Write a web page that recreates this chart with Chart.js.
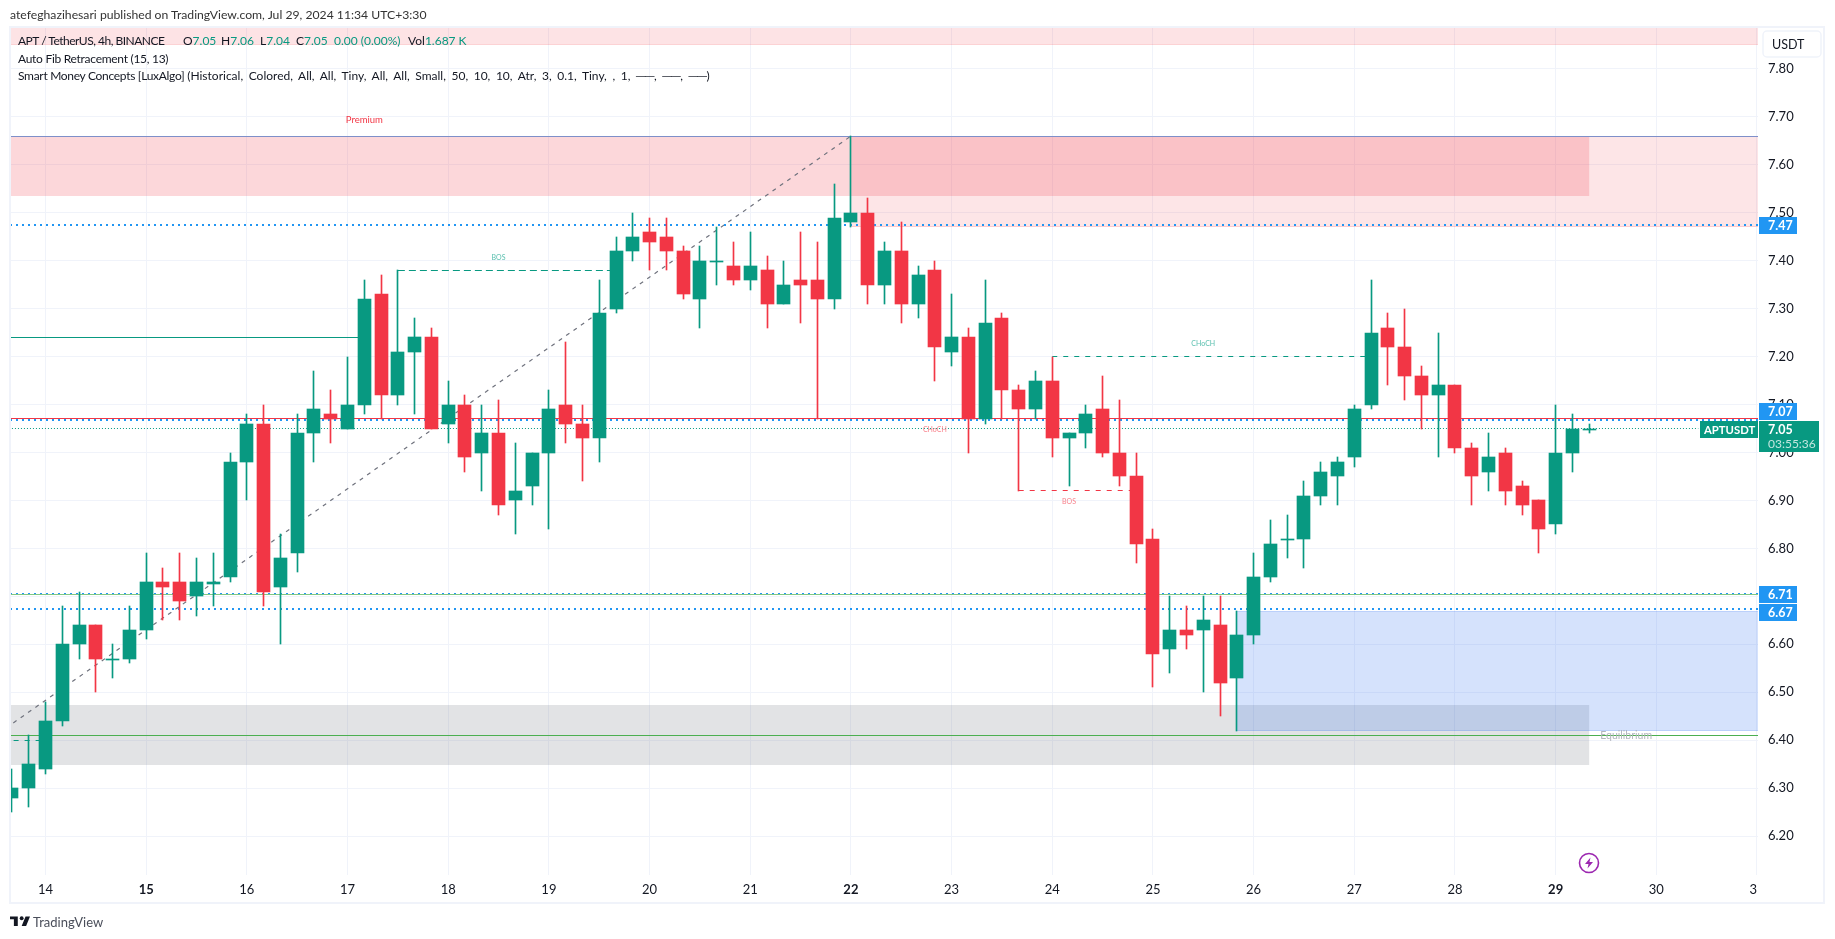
<!DOCTYPE html>
<html>
<head>
<meta charset="utf-8">
<title>APTUSDT 4h</title>
<script src="https://cdn.jsdelivr.net/npm/chart.js@4/dist/chart.umd.min.js"></script>
<style>
html, body { margin: 0; padding: 0; background: #fff; width: 1835px; height: 939px; overflow: hidden; }
canvas { position: absolute; left: 0; top: 0; }
.txt { position: absolute; font-family: Lato, "Noto Sans", sans-serif; font-size: 12px; line-height: 16px; color: #131722; white-space: pre; }
.up { color: #089981; }
</style>
</head>
<body>
<canvas id="chart" width="1835" height="939"></canvas>

<div class="txt" style="left:10px;top:7px;color:#333;font-size:12.2px">atefeghazihesari published on TradingView.com, Jul 29, 2024 11:34 UTC+3:30</div>
<div class="txt" style="left:18px;top:33px;letter-spacing:-0.5px">APT / TetherUS, 4h, BINANCE</div>
<div class="txt" style="left:183px;top:33px">O<span class="up">7.05</span></div>
<div class="txt" style="left:221px;top:33px">H<span class="up">7.06</span></div>
<div class="txt" style="left:260px;top:33px">L<span class="up">7.04</span></div>
<div class="txt" style="left:296px;top:33px">C<span class="up">7.05</span></div>
<div class="txt up" style="left:334px;top:33px">0.00 (0.00%)</div>
<div class="txt" style="left:408px;top:33px">Vol<span class="up">1.687 K</span></div>
<div class="txt" style="left:18px;top:51px;letter-spacing:-0.28px">Auto Fib Retracement (15, 13)</div>
<div class="txt" style="left:18px;top:68px"><span style="letter-spacing:-0.3px">Smart Money Concepts [LuxAlgo] </span><span style="word-spacing:2.5px">(Historical, Colored, All, All, Tiny, All, All, Small, 50, 10, 10, Atr, 3, 0.1, Tiny, , 1, ──, ──, ──)</span></div>

<svg style="position:absolute;left:10px;top:916px" width="20" height="10" viewBox="0 0 36 18">
  <path d="M14 1H0v5h7v12h7zM29 18h-8l7-17h8z" fill="#131722"/><circle cx="21" cy="4" r="3.5" fill="#131722"/>
</svg>
<div class="txt" style="left:33px;top:914px;font-size:13px;color:#4a4e5a">TradingView</div>

<svg style="position:absolute;left:1578px;top:852px" width="22" height="22" viewBox="0 0 22 22">
  <circle cx="11" cy="11" r="9.5" fill="#fff" stroke="#9c27b0" stroke-width="1.6"/>
  <path d="M12.5 5.5 7 12h3.5l-1 4.5L15 10h-3.5z" fill="#9c27b0"/>
</svg>

<script>
/* Candles, one every 4 hours, index 0 = 13th 16:00 */
/////////////////////////////////////////////////////////////////
const candleOpen = [
  6.28, 6.30, 6.34, 6.44, 6.60, 6.64, 6.57, 6.57,
  6.63, 6.73, 6.73, 6.70, 6.725, 6.74,
  6.98, 7.06, 6.72, 6.79, 7.04, 7.08,
  7.05, 7.10, 7.33, 7.12, 7.21, 7.24,
  7.06, 7.10, 7.00, 7.04, 6.90, 6.93,
  7.00, 7.10, 7.06, 7.03, 7.30, 7.42,
  7.46, 7.45, 7.42, 7.32, 7.40, 7.39,
  7.36, 7.38, 7.31, 7.36, 7.36, 7.32,
  7.48, 7.50, 7.35, 7.42, 7.31, 7.38,
  7.21, 7.24, 7.07, 7.28, 7.13, 7.09,
  7.15, 7.03, 7.04, 7.09, 7.00, 6.95,
  6.82, 6.59, 6.63, 6.63, 6.64, 6.53,
  6.62, 6.74, 6.82, 6.82, 6.91, 6.95,
  6.99, 7.10, 7.26, 7.22, 7.16, 7.12,
  7.14, 7.01, 6.96, 7.00, 6.93, 6.90,
  6.85, 7.00, 7.05];
const candleClose = [
  6.30, 6.35, 6.44, 6.60, 6.64, 6.57, 6.57, 6.63,
  6.73, 6.72, 6.69, 6.73, 6.73, 6.98,
  7.06, 6.71, 6.78, 7.04, 7.09, 7.07,
  7.10, 7.32, 7.12, 7.21, 7.24, 7.05,
  7.10, 6.99, 7.04, 6.89, 6.92, 7.00,
  7.09, 7.06, 7.03, 7.29, 7.42, 7.45,
  7.44, 7.42, 7.33, 7.40, 7.40, 7.36,
  7.39, 7.31, 7.35, 7.35, 7.32, 7.49,
  7.50, 7.35, 7.42, 7.31, 7.37, 7.22,
  7.24, 7.07, 7.27, 7.13, 7.09, 7.15,
  7.03, 7.04, 7.08, 7.00, 6.95, 6.81,
  6.58, 6.63, 6.62, 6.65, 6.52, 6.62,
  6.74, 6.81, 6.82, 6.91, 6.96, 6.98,
  7.09, 7.25, 7.22, 7.16, 7.12, 7.14,
  7.01, 6.95, 6.99, 6.92, 6.89, 6.84,
  7.00, 7.05, 7.05];
const candleHigh = [
  6.34, 6.41, 6.48, 6.68, 6.71, 6.64, 6.60, 6.68,
  6.79, 6.76, 6.79, 6.78, 6.79, 7.00,
  7.08, 7.10, 6.83, 7.08, 7.17, 7.13,
  7.20, 7.36, 7.37, 7.38, 7.28, 7.26,
  7.15, 7.12, 7.10, 7.11, 7.02, 7.00,
  7.13, 7.23, 7.10, 7.36, 7.45, 7.50,
  7.49, 7.49, 7.43, 7.43, 7.47, 7.44,
  7.46, 7.41, 7.40, 7.46, 7.44, 7.56,
  7.66, 7.53, 7.44, 7.48, 7.39, 7.40,
  7.33, 7.26, 7.36, 7.29, 7.14, 7.17,
  7.20, 7.04, 7.10, 7.16, 7.11, 7.00,
  6.84, 6.70, 6.68, 6.70, 6.70, 6.67,
  6.79, 6.86, 6.87, 6.94, 6.98, 6.99,
  7.10, 7.36, 7.29, 7.30, 7.18, 7.25,
  7.14, 7.02, 7.04, 7.01, 6.94, 6.90,
  7.10, 7.08, 7.06];
const candleLow = [
  6.25, 6.26, 6.33, 6.43, 6.57, 6.50, 6.53, 6.56,
  6.61, 6.65, 6.65, 6.66, 6.68, 6.73,
  6.90, 6.68, 6.60, 6.75, 6.98, 7.02,
  7.05, 7.08, 7.07, 7.10, 7.08, 7.05,
  7.02, 6.96, 6.92, 6.87, 6.83, 6.89,
  6.84, 7.02, 6.94, 6.98, 7.29, 7.40,
  7.38, 7.38, 7.32, 7.26, 7.35, 7.35,
  7.34, 7.26, 7.31, 7.27, 7.07, 7.30,
  7.47, 7.31, 7.31, 7.27, 7.28, 7.15,
  7.18, 7.00, 7.06, 7.07, 6.92, 7.07,
  6.99, 6.93, 7.01, 6.99, 6.93, 6.77,
  6.51, 6.54, 6.59, 6.50, 6.45, 6.42,
  6.60, 6.73, 6.78, 6.76, 6.89, 6.89,
  6.97, 7.09, 7.14, 7.11, 7.05, 6.99,
  7.00, 6.89, 6.92, 6.89, 6.87, 6.79,
  6.83, 6.96, 7.04];

/* Axis ticks */
/////////////////////////////////////////////////////////////////
const dayTicks = [2, 8, 14, 20, 26, 32, 38, 44, 50, 56, 62, 68, 74, 80, 86, 92, 98, 104];
const dayLabels = ['14', '15', '16', '17', '18', '19', '20', '21', '22', '23', '24', '25', '26', '27', '28', '29', '30', '31'];
const boldDays = ['15', '22', '29'];
const priceTicks = [6.2, 6.3, 6.4, 6.5, 6.6, 6.7, 6.8, 6.9, 7.0, 7.1, 7.2, 7.3, 7.4, 7.5, 7.6, 7.7, 7.8];

/* Levels and zones: [from candle, to candle, price, price] */
/////////////////////////////////////////////////////////////////
const topBand = [-0.116, 104.06, 7.851, 7.8876];
const premiumZone = [-0.116, 94, 7.535, 7.66];
const equilibriumZone = [-0.116, 94, 6.348, 6.473];
const bearBlock = [50, 104.06, 7.471, 7.66];
const bullBlock = [73, 104.06, 6.42, 6.67];

const fibLine = [{x: 0.08, y: 6.436}, {x: 50, y: 7.66}];
const bosUp = [{x: 23, y: 7.38}, {x: 36, y: 7.38}];
const chochUp = [{x: 62, y: 7.20}, {x: 81, y: 7.20}];
const bosDown = [{x: 60, y: 6.92}, {x: 67, y: 6.92}];
const oldLow = [{x: 0.1, y: 6.40}, {x: 2, y: 6.40}];
const oldHigh = [{x: -0.116, y: 7.24}, {x: 21, y: 7.24}];
const lastPriceLine = [{x: 0, y: 7.05}, {x: 100.5, y: 7.05}];

const xMin = -0.116, xMax = 104.06;
const yMin = 6.1187, yMax = 7.8876;

const green = '#089981';
const red = '#F23645';
const gridColor = '#f0f3fa';

function level(p) {
    return [{x: xMin, y: p}, {x: xMax, y: p}];
}

function lineSet(data, color, width, dash) {
    return {
        type: 'line', data: data, borderColor: color, borderWidth: width,
        borderDash: dash || [], pointRadius: 0, fill: false, order: 5
    };
}

/* bar data built from the arrays */
/////////////////////////////////////////////////////////////////
const wickData = [], bodyData = [], candleColors = [];
for (let i = 0; i < candleOpen.length; i++) {
    wickData.push({x: i, y: [candleLow[i], candleHigh[i]]});
    bodyData.push({x: i, y: [Math.min(candleOpen[i], candleClose[i]), Math.max(candleOpen[i], candleClose[i])]});
    candleColors.push(candleClose[i] >= candleOpen[i] ? green : red);
}

/* zones under the candles */
/////////////////////////////////////////////////////////////////
function drawZone(chart, z, color, edge) {
    const xs = chart.scales.x, ys = chart.scales.y, c = chart.ctx;
    const l = xs.getPixelForValue(z[0]), r = xs.getPixelForValue(z[1]);
    const t = Math.round(ys.getPixelForValue(z[3])), b = Math.round(ys.getPixelForValue(z[2]));
    c.fillStyle = color;
    c.fillRect(l, t, r - l, b - t);
    if (edge) {
        c.fillStyle = edge;
        c.fillRect(l, b - 1, r - l, 1);
    }
}

const zonePlugin = {
    id: 'zones',
    // snap candles and flat lines to whole pixels so they stay sharp
    afterDatasetsUpdate(chart) {
        chart.data.datasets.forEach((d, i) => {
            const points = chart.getDatasetMeta(i).data;
            if (d.type === 'line') {
                if (d.data[0].y !== d.data[1].y) return;
                const odd = d.borderWidth % 2 === 1;
                points.forEach(p => { p.y = odd ? Math.floor(p.y) + 0.5 : Math.round(p.y); });
                return;
            }
            points.forEach(el => {
                el.x = Math.floor(el.x) + 0.5;
                el.y = Math.round(el.y);
                el.base = Math.round(el.base);
                if (el.base - el.y < 1) el.base = el.y + 1;
            });
        });
    },
    beforeDatasetsDraw(chart) {
        drawZone(chart, topBand, 'rgba(242,54,69,0.14)', 'rgba(242,54,69,0.10)');
        drawZone(chart, premiumZone, 'rgba(242,54,69,0.20)');
        drawZone(chart, equilibriumZone, 'rgba(120,123,134,0.21)');
        drawZone(chart, bearBlock, 'rgba(242,54,69,0.13)', 'rgba(242,54,69,0.15)');
        drawZone(chart, bullBlock, 'rgba(33,100,240,0.19)', 'rgba(33,100,240,0.15)');
        // top edge of the blue block
        const ys = chart.scales.y, xs = chart.scales.x;
        chart.ctx.fillStyle = 'rgba(33,100,240,0.15)';
        chart.ctx.fillRect(xs.getPixelForValue(bullBlock[0]), Math.round(ys.getPixelForValue(bullBlock[3])),
            xs.getPixelForValue(bullBlock[1]) - xs.getPixelForValue(bullBlock[0]), 1);
    },
    afterDatasetsDraw(chart) {
        chartLabel(chart, 'Premium', 21, 7.694, red, 9.5);
        chartLabel(chart, 'BOS', 29, 7.406, '#58bfae', 7);
        chartLabel(chart, 'CHoCH', 71, 7.226, '#58bfae', 7);
        chartLabel(chart, 'BOS', 63, 6.897, '#f9838d', 7);
        chartLabel(chart, 'CHoCH', 55, 7.047, '#f9838d', 7);
        chartLabel(chart, 'Equilibrium', 96.2, 6.41, '#b2b5be', 10.5);
    },
    afterDraw(chart) {
        const c = chart.ctx, ys = chart.scales.y;
        // frame
        c.strokeStyle = gridColor;
        c.lineWidth = 2;
        c.strokeRect(10, 27, 1814, 876);
        // 31 is cut off by the price scale
        c.fillStyle = '#fff';
        c.fillRect(1758, 876, 64, 26);
        // price tags on the scale
        priceTag(chart, '7.47', 7.474, '#2196f3');
        priceTag(chart, '7.07', 7.086, '#2196f3');
        priceTag(chart, '6.71', 6.704, '#2196f3');
        priceTag(chart, '6.67', 6.668, '#2196f3');
        // last price block
        const y = Math.round(ys.getPixelForValue(7.05));
        c.fillStyle = green;
        c.fillRect(1759, y - 8, 60, 31);
        c.fillRect(1700, y - 8, 58, 17);
        c.textBaseline = 'middle';
        c.textAlign = 'left';
        c.font = 'bold 12.5px Lato, sans-serif';
        c.fillStyle = '#fff';
        c.fillText('7.05', 1768, y + 1);
        c.font = 'bold 11.3px Lato, sans-serif';
        c.fillText('APTUSDT', 1704, y + 1);
        c.font = '12px Lato, sans-serif';
        c.fillStyle = '#c3e6df';
        c.fillText('03:55:36', 1768, y + 15);
        // currency button
        c.strokeStyle = gridColor;
        c.lineWidth = 1.5;
        c.beginPath();
        c.roundRect(1763, 31, 58, 26, 4);
        c.stroke();
        c.fillStyle = '#131722';
        c.font = '12.5px Lato, sans-serif';
        c.fillText('USDT', 1772, 45);
    }
};

function chartLabel(chart, text, idx, price, color, size) {
    const c = chart.ctx;
    c.font = size + 'px Lato, sans-serif';
    c.fillStyle = color;
    c.textAlign = 'center';
    c.textBaseline = 'middle';
    c.fillText(text, chart.scales.x.getPixelForValue(idx), chart.scales.y.getPixelForValue(price));
}

function priceTag(chart, text, price, color) {
    const c = chart.ctx, y = Math.round(chart.scales.y.getPixelForValue(price));
    c.fillStyle = color;
    c.fillRect(1759, y - 8, 38, 17);
    c.fillStyle = '#fff';
    c.font = 'bold 12.5px Lato, sans-serif';
    c.textAlign = 'left';
    c.textBaseline = 'middle';
    c.fillText(text, 1768, y + 1);
}

/////////////////////////////////////////////////////////////////
const ctx = document.getElementById('chart');
const chartMain = new Chart(ctx, {
    type: 'bar',
    plugins: [zonePlugin],
    data: {
        datasets: [
            {data: bodyData, backgroundColor: candleColors, barThickness: 13, grouped: false, order: 0},
            {data: wickData, backgroundColor: candleColors, barThickness: 1, grouped: false, order: 1},
            lineSet(level(7.07), red, 1),
            lineSet(level(6.41), '#4caf50', 1),
            lineSet(level(6.7035), '#81c784', 1),
            lineSet(level(7.475), '#2196f3', 2, [2, 4]),
            lineSet(level(7.067), '#2196f3', 2, [2, 4]),
            lineSet(level(6.705), '#2196f3', 2, [2, 4]),
            lineSet(level(6.674), '#2196f3', 2, [2, 4]),
            lineSet(level(7.66), '#7e8fc9', 1),
            lineSet(fibLine, '#6f727d', 1.2, [4, 5]),
            lineSet(bosUp, green, 1, [7, 4]),
            lineSet(chochUp, green, 1, [5, 6]),
            lineSet(bosDown, red, 1, [5, 6]),
            lineSet(oldLow, green, 1, [5, 6]),
            lineSet(oldHigh, green, 1),
            lineSet(lastPriceLine, green, 1, [1, 2])
        ]
    },
    options: {
        responsive: false,
        animation: false,
        devicePixelRatio: 1,
        events: [],
        layout: {padding: {left: 10, top: 27, right: 10, bottom: 36}},
        plugins: {legend: {display: false}, tooltip: {enabled: false}},
        scales: {
            x: {
                type: 'linear',
                min: xMin,
                max: xMax,
                offset: false,
                afterBuildTicks(scale) { scale.ticks = dayTicks.map(v => ({value: v})); },
                afterFit(scale) { scale.height = 28; },
                grid: {color: gridColor, drawTicks: false, offset: false},
                border: {display: false},
                ticks: {
                    autoSkip: false,
                    maxRotation: 0,
                    padding: 7,
                    color: '#131722',
                    font: ctx => ({family: 'Lato, sans-serif', size: 13,
                        weight: ctx.tick && boldDays.includes(dayLabels[dayTicks.indexOf(ctx.tick.value)]) ? 'bold' : 'normal'}),
                    callback: v => dayLabels[dayTicks.indexOf(v)]
                }
            },
            y: {
                position: 'right',
                min: yMin,
                max: yMax,
                afterBuildTicks(scale) { scale.ticks = priceTicks.map(v => ({value: v})); },
                afterFit(scale) { scale.width = 67; },
                grid: {color: gridColor, drawTicks: false},
                border: {display: false},
                ticks: {
                    autoSkip: false,
                    padding: 10,
                    color: '#131722',
                    font: {family: 'Lato, sans-serif', size: 13},
                    callback: v => v.toFixed(2)
                }
            }
        }
    }
});
/////////////////////////////////////////////////////////////////
</script>
</body>
</html>
